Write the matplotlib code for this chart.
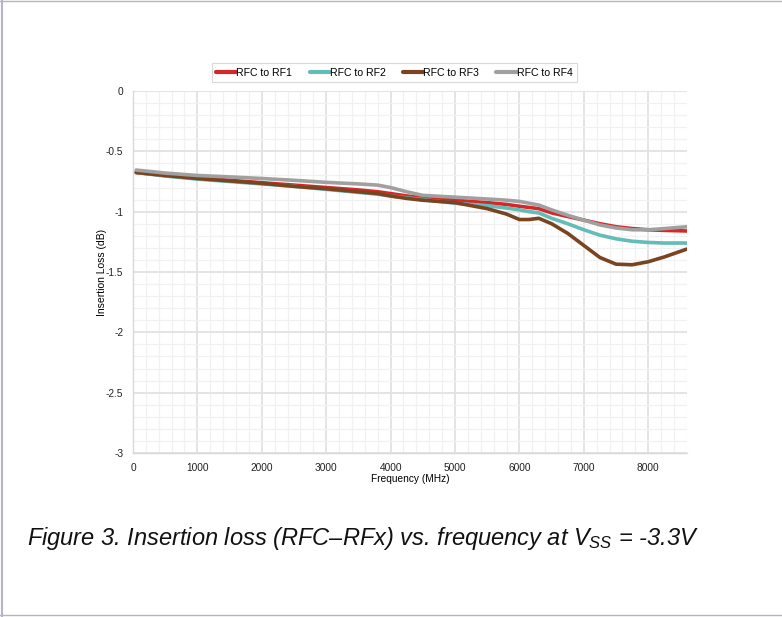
import matplotlib
matplotlib.use("Agg")
import matplotlib.pyplot as plt
from matplotlib.lines import Line2D
from matplotlib.ticker import MultipleLocator

plt.rcParams["font.family"] = ["Liberation Sans", "DejaVu Sans"]
plt.rcParams["mathtext.fontset"] = "custom"
plt.rcParams["mathtext.it"] = "Liberation Sans:italic"
plt.rcParams["mathtext.rm"] = "Liberation Sans:italic"

# Insertion loss (dB) vs. frequency (MHz), per RFC->RFx path
freq = [50, 500, 1000, 1500, 2000, 2500, 3000, 3500, 3800, 4000, 4250, 4500,
        5000, 5500, 5800, 6000, 6150, 6300, 6500, 6750, 7000, 7250, 7500,
        7750, 8000, 8250, 8600]

rf1 = [-0.675, -0.700, -0.720, -0.740, -0.760, -0.780, -0.800, -0.820, -0.835,
       -0.850, -0.870, -0.885, -0.905, -0.925, -0.940, -0.955, -0.965, -0.975,
       -1.010, -1.040, -1.070, -1.100, -1.125, -1.140, -1.150, -1.155, -1.160]
rf2 = [-0.675, -0.705, -0.730, -0.750, -0.770, -0.790, -0.815, -0.840, -0.855,
       -0.870, -0.885, -0.900, -0.930, -0.950, -0.970, -0.985, -1.000, -1.010,
       -1.055, -1.100, -1.150, -1.195, -1.225, -1.245, -1.255, -1.260, -1.260]
rf3 = [-0.675, -0.700, -0.725, -0.745, -0.765, -0.790, -0.810, -0.835, -0.850,
       -0.870, -0.890, -0.905, -0.925, -0.975, -1.020, -1.065, -1.065, -1.055,
       -1.100, -1.180, -1.280, -1.380, -1.435, -1.440, -1.415, -1.375, -1.310]
rf4 = [-0.655, -0.680, -0.700, -0.712, -0.725, -0.740, -0.757, -0.770, -0.780,
       -0.800, -0.835, -0.865, -0.880, -0.895, -0.905, -0.915, -0.930, -0.945,
       -0.985, -1.030, -1.070, -1.110, -1.135, -1.150, -1.150, -1.140, -1.125]

series = [
    ("RFC to RF1", rf1, "#d62728"),
    ("RFC to RF2", rf2, "#62bcb8"),
    ("RFC to RF3", rf3, "#7b4420"),
    ("RFC to RF4", rf4, "#a0a0a0"),
]

fig = plt.figure(figsize=(7.82, 6.17), dpi=100)
ax = fig.add_axes([0.170, 0.2658, 0.7084, 0.5867])

for label, vals, color in series:
    ax.plot(freq, vals, color=color, linewidth=2.6, label=label,
            solid_capstyle="round")

ax.set_xlim(0, 8600)
ax.set_ylim(-3, 0)
ax.xaxis.set_major_locator(MultipleLocator(1000))
ax.xaxis.set_minor_locator(MultipleLocator(200))
ax.yaxis.set_major_locator(MultipleLocator(0.5))
ax.yaxis.set_minor_locator(MultipleLocator(0.1))
ax.set_yticks([0, -0.5, -1, -1.5, -2, -2.5, -3])
ax.set_yticklabels(["0", "-0.5", "-1", "-1.5", "-2", "-2.5", "-3"])

ax.grid(True, which="major", color="#e2e2e2", linewidth=1.3)
ax.grid(True, which="minor", color="#f1f1f1", linewidth=0.9)
ax.set_axisbelow(True)
ax.tick_params(which="both", length=0, labelsize=7.3, colors="#222222")
ax.tick_params(axis="x", pad=7)
ax.tick_params(axis="y", pad=7)

for side in ("top", "right"):
    ax.spines[side].set_visible(False)
for side in ("left", "bottom"):
    ax.spines[side].set_color("#d9d9d9")
    ax.spines[side].set_linewidth(1.0)

ax.set_xlabel("Frequency (MHz)", fontsize=7.3, labelpad=1)
ax.set_ylabel("Insertion Loss (dB)", fontsize=7.5, labelpad=-1)

leg = ax.legend(loc="center", bbox_to_anchor=(0.472, 1.051), ncol=4,
                fontsize=7.6, frameon=True, fancybox=False, handlelength=1.9,
                handletextpad=0.0, columnspacing=1.65, borderpad=0.45)
leg.get_frame().set_edgecolor("#d0d0d0")
leg.get_frame().set_linewidth(0.8)
for h in leg.get_lines():
    h.set_linewidth(3.0)

fig.text(0.034, 0.128,
         r"Figure 3. Insertion loss (RFC–RFx) vs. frequency at $V_{SS}$ = -3.3V",
         fontsize=17, style="italic", color="#111111", va="center")

# page frame
frame = "#b4b4c4"
fig.add_artist(Line2D([0.002, 0.002], [0.0, 1.0], color=frame, lw=1.5,
                      transform=fig.transFigure))
fig.add_artist(Line2D([0.0, 1.0], [0.999, 0.999], color=frame, lw=1.0,
                      transform=fig.transFigure))
fig.add_artist(Line2D([0.0, 1.0], [0.003, 0.003], color=frame, lw=1.0,
                      transform=fig.transFigure))

fig.savefig("out.png", dpi=100)
